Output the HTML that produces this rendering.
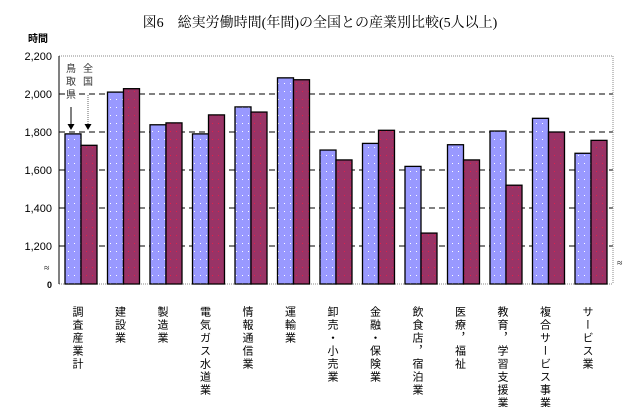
<!DOCTYPE html>
<html><head><meta charset="utf-8"><style>
body{margin:0;background:#fff;width:638px;height:407px;overflow:hidden;font-family:"Liberation Serif","Noto Serif CJK SC",serif}
svg{position:absolute;left:0;top:0}
</style></head><body>
<svg width="638" height="407">
<defs>
<pattern id="pb" width="6" height="8" patternUnits="userSpaceOnUse"><rect width="6" height="8" fill="#9999ff"/><rect x="2" y="3" width="1" height="1" fill="#fff"/></pattern>
<pattern id="pr" width="6" height="8" patternUnits="userSpaceOnUse"><rect width="6" height="8" fill="#993366"/><rect x="2" y="3" width="1" height="1" fill="#e0204a"/></pattern>
</defs>
<text x="320" y="27" text-anchor="middle" font-size="14">図6　総実労働時間(年間)の全国との産業別比較(5人以上)</text>
<text x="28" y="42" font-size="10" font-family="Liberation Sans, Noto Sans CJK JP, sans-serif" font-weight="bold">時間</text>
<g id="g"></g>
</svg>
<script>
const categories=["調査産業計","建設業","製造業","電気ガス水道業","情報通信業","運輸業","卸売・小売業","金融・保険業","飲食店，宿泊業","医療，福祉","教育，学習支援業","複合サービス事業","サービス業"];
const tottori=[1790,2010,1838,1790,1932,2085,1705,1740,1619,1733,1805,1872,1688];
const national=[1730,2028,1848,1890,1905,2075,1653,1809,1268,1653,1520,1800,1756];
const ticks=[1200,1400,1600,1800,2000,2200];
const tickLabels=["1,200","1,400","1,600","1,800","2,000","2,200"];
const NS="http://www.w3.org/2000/svg";
const g=document.getElementById('g');
const L=59,R=613,T=56,B=284;
function y(v){return v<=1000?B:246-(v-1200)*0.19;}
function x(i){return L+6+i*42.5;}
function mk(t,a,p){const e=document.createElementNS(NS,t);for(const k in a)e.setAttribute(k,a[k]);(p||g).appendChild(e);return e;}
ticks.forEach((t,i)=>{
 if(t<2200){const l=mk('line',{x1:L,x2:R,y1:y(t),y2:y(t),stroke:'#000','stroke-dasharray':'6,4'});
 
 }
 const tx=mk('text',{x:52,y:y(t)+4,'text-anchor':'end','font-size':'11','font-family':'Liberation Sans, sans-serif'});tx.textContent=tickLabels[i];
 
 
});
const z=mk('text',{x:52,y:B+4,'text-anchor':'end','font-size':'9','font-family':'Liberation Sans, sans-serif','font-weight':'bold'});z.textContent='0';


mk('text',{x:44,y:271,'font-size':'10'}).textContent='≈';
mk('text',{x:617,y:266,'font-size':'10'}).textContent='≈';
mk('path',{d:`M${L} ${T}H${R}V${B}`,fill:'none',stroke:'#888','stroke-dasharray':'1,1'});
mk('line',{x1:L,x2:R,y1:B,y2:B,stroke:'#888','stroke-dasharray':'1,1'});
mk('line',{x1:L,x2:L,y1:T,y2:B,stroke:'#000'});
categories.forEach((c,i)=>{
 const b=mk('rect',{x:x(i),y:y(tottori[i]),width:16,height:B-y(tottori[i]),fill:'url(#pb)',stroke:'#000','stroke-width':1.3});
 
 
 const r=mk('rect',{x:x(i)+16,y:y(national[i]),width:16,height:B-y(national[i]),fill:'url(#pr)',stroke:'#000','stroke-width':1.3});
 
 
 const t=mk('text',{x:x(i)+12,y:306,'font-size':'11','writing-mode':'tb','glyph-orientation-vertical':'0','letter-spacing':'2','font-family':'Liberation Sans, Noto Sans CJK JP, sans-serif'});
 t.textContent=c;
 
 
});
// annotations
[['鳥',69,'取',82,'県',95]].forEach(()=>{});
function vt(s,xx,yy){s.split('').forEach((ch,k)=>{const t=mk('text',{x:xx,y:yy+k*13,'font-size':'10','text-anchor':'middle','fill':'#333','font-family':'Liberation Sans, Noto Sans CJK JP, sans-serif'});t.textContent=ch;});}
vt('鳥取県',71,72);vt('全国',88,72);
mk('line',{x1:71,x2:71,y1:107,y2:126,stroke:'#000'});
mk('path',{d:'M67.5 124L71 130L74.5 124Z',fill:'#000'});
mk('line',{x1:88,x2:88,y1:95,y2:126,stroke:'#666','stroke-dasharray':'1,1'});
mk('path',{d:'M84.5 124L88 130L91.5 124Z',fill:'#000'});
</script>
</body></html>
